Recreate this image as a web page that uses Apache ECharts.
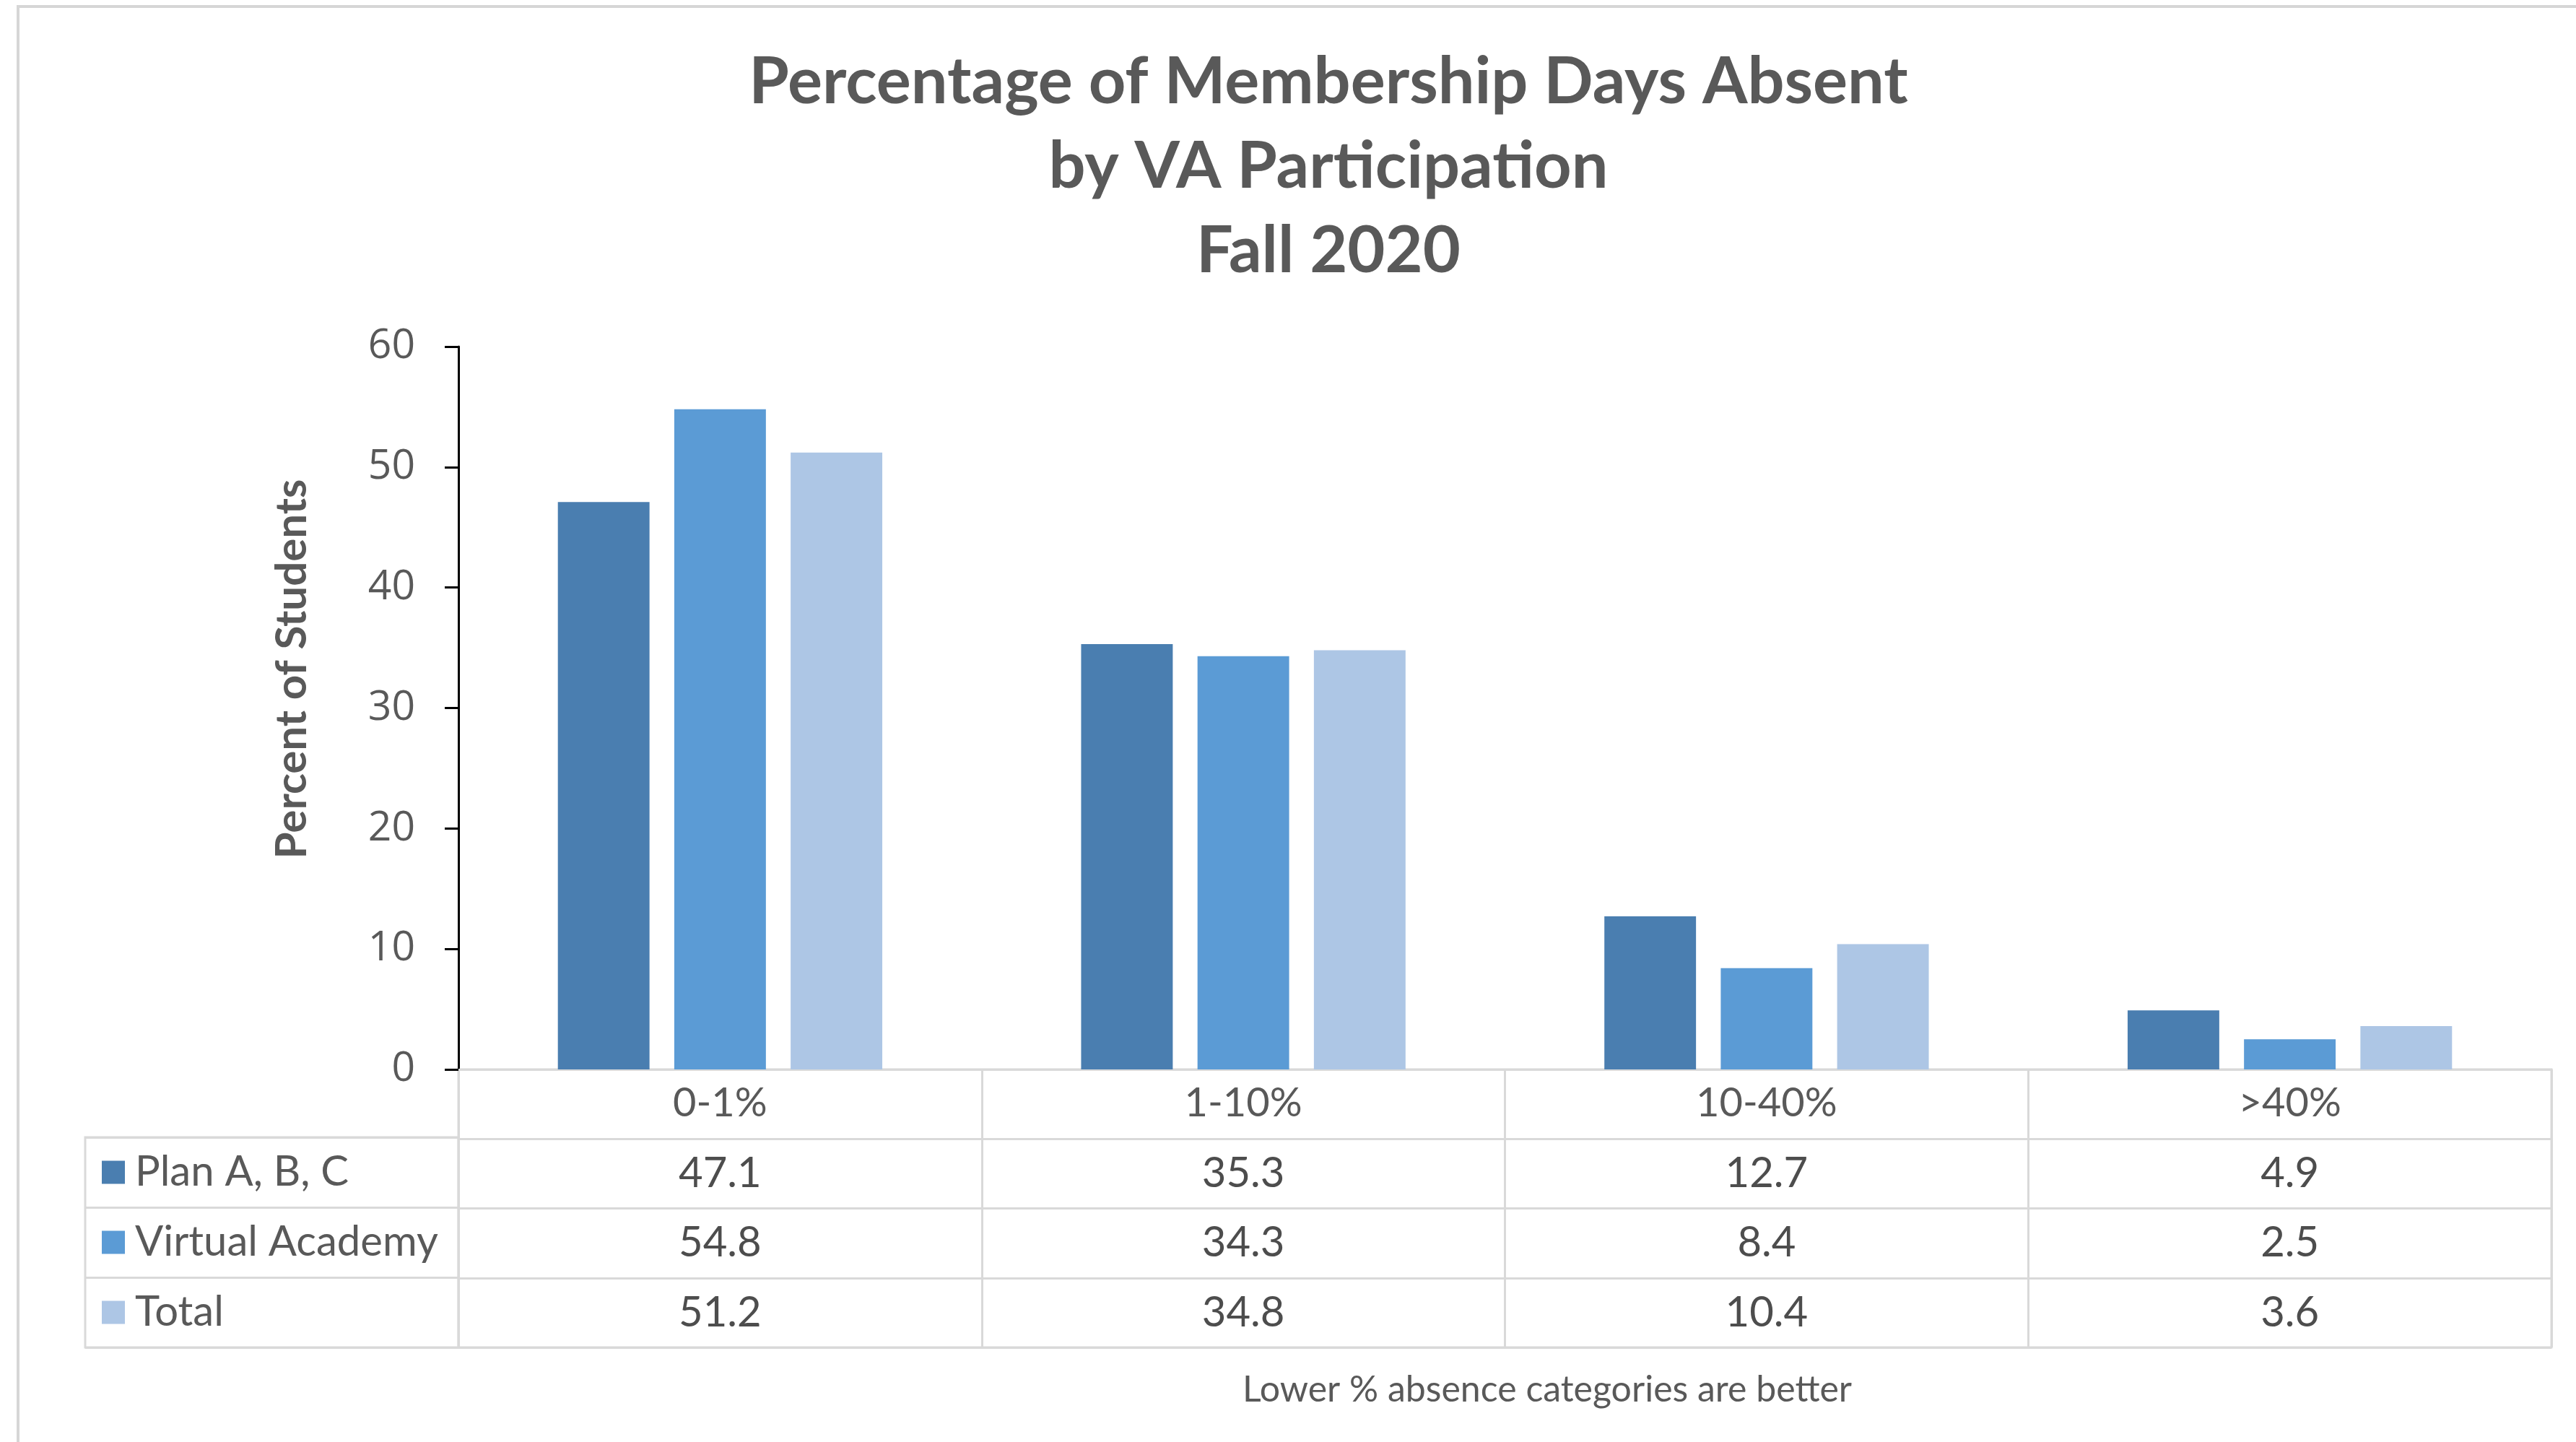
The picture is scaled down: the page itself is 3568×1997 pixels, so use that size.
<!DOCTYPE html>
<html>
    <head>
        <title>Percentage of Membership Days Absent</title>
        <meta charset="UTF-8">
        <script src="https://cdn.jsdelivr.net/npm/echarts@6/dist/echarts.min.js"></script>
        <style>
            body { margin: 0; background: #fff; }
        </style>
    </head>
    <body>
    <div id="main" style="width: 3568px;height: 1997px;"></div>
    <script type="text/javascript">
        // data
        var categories = ['0-1%', '1-10%', '10-40%', '>40%'];
        var seriesNames = ['Plan A, B, C', 'Virtual Academy', 'Total'];
        var planABC = [47.1, 35.3, 12.7, 4.9];
        var virtualAcademy = [54.8, 34.3, 8.4, 2.5];
        var total = [51.2, 34.8, 10.4, 3.6];
        var yTicks = [0, 10, 20, 30, 40, 50, 60];

        var colors = ['#4a7eb0', '#5b9bd5', '#adc6e5'];
        var seriesValues = [planABC, virtualAcademy, total];
        var textColor = '#595959';
        var lineColor = '#d9d9d9';

        var myChart = echarts.init(document.getElementById('main'));

        // table cells: one point per (category, row)
        var cells = [];
        for (var s = 0; s < seriesValues.length; s++) {
            for (var i = 0; i < categories.length; i++) {
                cells.push([i, s + 1, seriesValues[s][i]]);
            }
        }

        var barSeries = seriesNames.map(function (name, s) {
            return {
                name: name,
                type: 'bar',
                xAxisIndex: 0,
                yAxisIndex: 0,
                barGap: '27%',
                barCategoryGap: '38%',
                itemStyle: { color: colors[s] },
                data: seriesValues[s]
            };
        });

        var legendRich = { name: { fontSize: 58, color: textColor, fontFamily: 'Lato', padding: [0, 0, 0, 14] } };
        colors.forEach(function (c, s) {
            legendRich['sq' + s] = { backgroundColor: c, width: 32, height: 32 };
        });

        var option = {
            backgroundColor: '#FFFFFF',
            animation: false,
            title: [{
                text: 'Percentage of Membership Days Absent\nby VA Participation\nFall 2020',
                left: 1835,
                top: 50,
                textAlign: 'center',
                textStyle: {
                    fontFamily: 'Lato',
                    fontWeight: 'bold',
                    fontSize: 90,
                    lineHeight: 117,
                    color: textColor
                }
            }, {
                text: 'Lower % absence categories are better',
                left: 2138,
                top: 1890,
                textAlign: 'center',
                textStyle: {
                    fontFamily: 'Lato',
                    fontWeight: 'normal',
                    fontSize: 50,
                    lineHeight: 60,
                    color: textColor
                }
            }],
            graphic: [{
                type: 'rect',
                shape: { x: 25, y: 9, width: 3700, height: 2100 },
                style: { fill: 'none', stroke: '#d6d6d6', lineWidth: 4 },
                silent: true
            }],
            grid: [
                { left: 635, right: 34, top: 480, bottom: 516 },
                { left: 635, right: 34, top: 1481, bottom: 131, show: true, borderColor: lineColor, borderWidth: 3 },
                { left: 118, width: 517, top: 1575, bottom: 131, show: true, borderColor: lineColor, borderWidth: 3 }
            ],
            xAxis: [{
                gridIndex: 0,
                type: 'category',
                data: categories,
                axisLine: { lineStyle: { color: lineColor, width: 3 } },
                axisTick: { show: false },
                axisLabel: {
                    margin: 47,
                    verticalAlign: 'middle',
                    fontFamily: 'Lato',
                    fontSize: 56,
                    color: textColor
                }
            }, {
                gridIndex: 1,
                type: 'category',
                data: categories,
                axisLine: { show: false },
                axisTick: { show: false },
                axisLabel: { show: false },
                splitLine: { show: true, lineStyle: { color: lineColor, width: 3 } }
            }, {
                gridIndex: 2,
                type: 'value',
                min: 0,
                max: 1,
                show: false
            }],
            yAxis: [{
                gridIndex: 0,
                type: 'value',
                min: yTicks[0],
                max: yTicks[yTicks.length - 1],
                interval: 10,
                name: 'Percent of Students',
                nameLocation: 'middle',
                nameGap: 200,
                nameRotate: 90,
                nameTextStyle: {
                    fontFamily: 'Lato',
                    fontWeight: 'bold',
                    fontSize: 60,
                    color: textColor,
                    padding: [0, 0, 0, 108]
                },
                axisLine: { show: true, lineStyle: { color: '#000', width: 3 } },
                axisTick: { show: true, length: 19, lineStyle: { color: '#000', width: 3 } },
                splitLine: { show: false },
                axisLabel: {
                    margin: 60,
                    fontFamily: 'Open Sans',
                    fontSize: 57,
                    color: textColor
                }
            }, {
                gridIndex: 1,
                type: 'category',
                inverse: true,
                data: [''].concat(seriesNames),
                axisLine: { show: false },
                axisTick: { show: false },
                axisLabel: { show: false },
                splitLine: { show: true, lineStyle: { color: lineColor, width: 3 } }
            }, {
                gridIndex: 2,
                type: 'category',
                inverse: true,
                data: seriesNames,
                axisLine: { show: false },
                axisTick: { show: false },
                splitLine: { show: true, lineStyle: { color: lineColor, width: 3 } },
                axisLabel: {
                    inside: true,
                    margin: 23,
                    formatter: function (value, idx) {
                        return '{sq' + idx + '|}{name|' + value + '}';
                    },
                    rich: legendRich
                }
            }],
            series: barSeries.concat([{
                name: 'table',
                type: 'scatter',
                xAxisIndex: 1,
                yAxisIndex: 1,
                symbolSize: 1,
                silent: true,
                itemStyle: { color: 'rgba(0,0,0,0)' },
                label: {
                    show: true,
                    position: 'inside',
                    fontFamily: 'Lato',
                    fontSize: 58,
                    color: '#4d4d4d',
                    opacity: 1,
                    formatter: function (p) {
                        return p.value[2].toFixed(1);
                    }
                },
                data: cells
            }])
        };

        myChart.setOption(option);
    </script>
    </body>
</html>
